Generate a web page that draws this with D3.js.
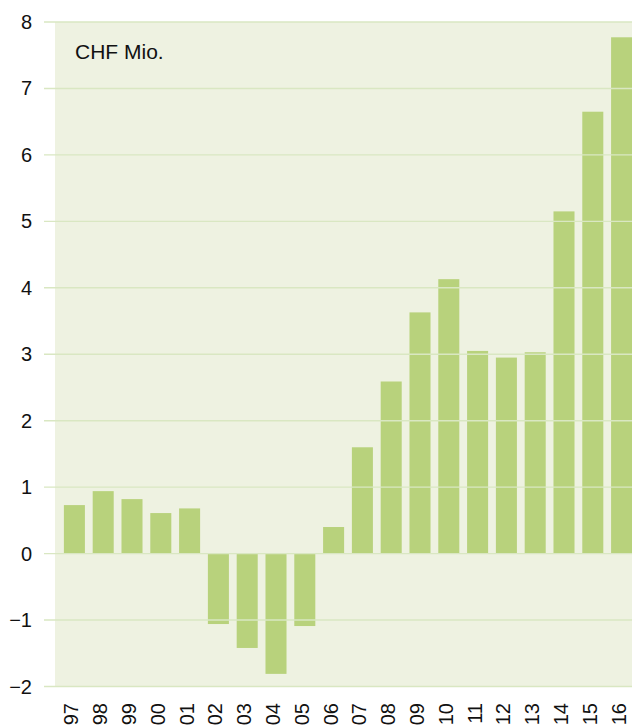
<!DOCTYPE html>
<html>
<head>
<meta charset="utf-8">
<script src="https://cdn.jsdelivr.net/npm/d3@7"></script>
<style>
  body { margin: 0; background: #fff; }
  svg text { font-family: "Liberation Sans", Arial, Helvetica, sans-serif; fill: #111; }
</style>
</head>
<body>
<svg id="svg" width="632" height="726"></svg>
<script>
const years = ["97", "98", "99", "00", "01", "02", "03", "04", "05", "06",
               "07", "08", "09", "10", "11", "12", "13", "14", "15", "16"];
const values = [0.73, 0.94, 0.82, 0.61, 0.68, -1.06, -1.42, -1.81, -1.09, 0.40,
                1.60, 2.59, 3.63, 4.13, 3.05, 2.95, 3.03, 5.15, 6.65, 7.77];
const yTicks = [-2, -1, 0, 1, 2, 3, 4, 5, 6, 7, 8];
const unitLabel = "CHF Mio.";

const svg = d3.select("#svg");

const x = d3.scaleBand()
    .domain(years)
    .range([60, 636])
    .paddingInner(0.27)
    .paddingOuter(0.135);

const y = d3.scaleLinear()
    .domain([-2, 8])
    .range([686.5, 22]);

// plot background
svg.append("rect")
    .attr("x", 55)
    .attr("y", y(8))
    .attr("width", 632 - 55)
    .attr("height", y(-2) - y(8))
    .attr("fill", "#eef2e1");

// bars
svg.append("g")
    .selectAll("rect")
    .data(values)
    .join("rect")
    .attr("x", (d, i) => x(years[i]))
    .attr("width", x.bandwidth())
    .attr("y", d => y(Math.max(0, d)))
    .attr("height", d => Math.abs(y(d) - y(0)))
    .attr("fill", "#b8d27c");

// gridlines on top
svg.append("g")
    .selectAll("line")
    .data(yTicks)
    .join("line")
    .attr("x1", 44)
    .attr("x2", 632)
    .attr("y1", d => y(d))
    .attr("y2", d => y(d))
    .attr("stroke", "#d9e7c2")
    .attr("stroke-width", 1.4);

// y labels
svg.append("g")
    .selectAll("text")
    .data(yTicks)
    .join("text")
    .attr("x", 32)
    .attr("y", d => y(d))
    .attr("dy", "0.35em")
    .attr("text-anchor", "end")
    .attr("font-size", 20)
    .text(d => d < 0 ? "\u2212" + Math.abs(d) : d);

// x labels, rotated
svg.append("g")
    .selectAll("text")
    .data(years)
    .join("text")
    .attr("transform", d => `translate(${x(d) + x.bandwidth() / 2 - 3},703) rotate(-90)`)
    .attr("dy", "0.35em")
    .attr("text-anchor", "end")
    .attr("font-size", 20)
    .text(d => d);

svg.append("text")
    .attr("x", 75)
    .attr("y", 58.5)
    .attr("font-size", 21)
    .text(unitLabel);
</script>
</body>
</html>
